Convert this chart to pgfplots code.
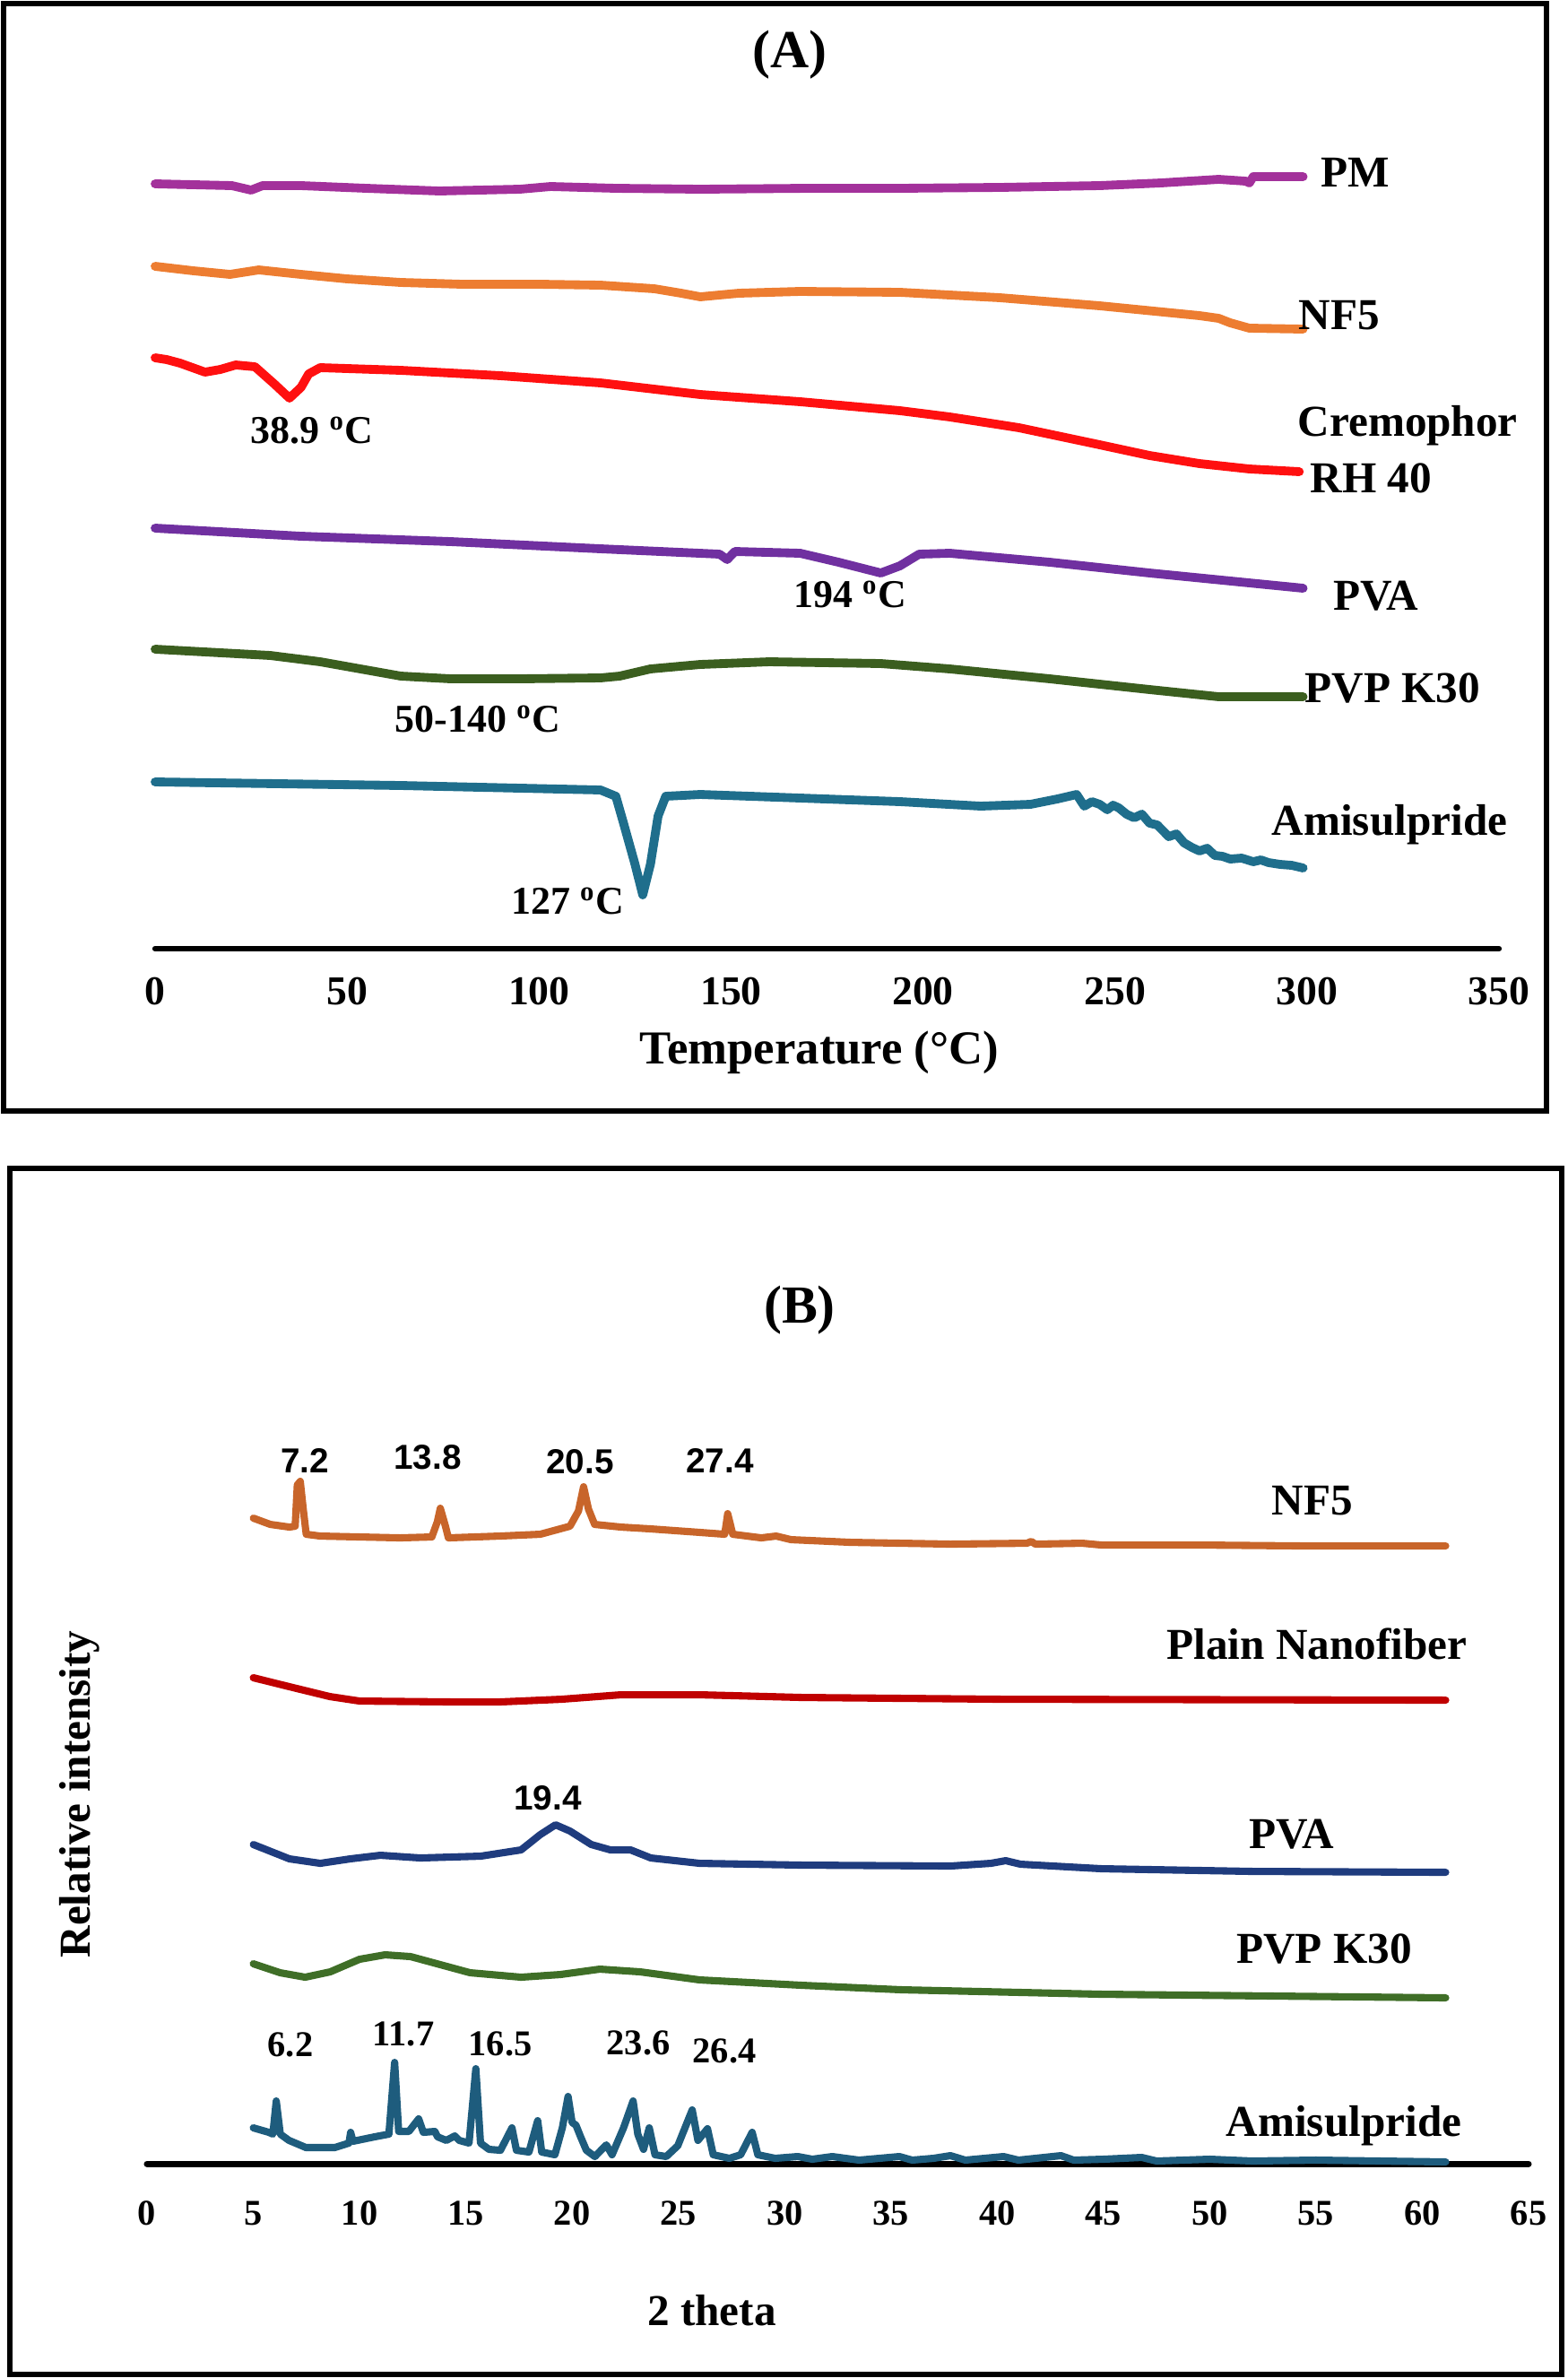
\documentclass[border=0pt]{standalone}
\usepackage{pgfplots}
\pgfplotsset{compat=1.18}
\usepackage{fontspec}
\setmainfont{Liberation Serif}
\newfontfamily\sansfont{Liberation Sans}
\definecolor{cPM}{HTML}{A3319B}
\definecolor{cNFa}{HTML}{ED7D31}
\definecolor{cCrem}{HTML}{FF1010}
\definecolor{cPVAa}{HTML}{7030A0}
\definecolor{cPVPa}{HTML}{3B5E1F}
\definecolor{cAMIa}{HTML}{1F6E8C}
\definecolor{cNFb}{HTML}{C8652A}
\definecolor{cPlain}{HTML}{C00000}
\definecolor{cPVAb}{HTML}{1F3C7E}
\definecolor{cPVPb}{HTML}{3F6E27}
\definecolor{cAMIb}{HTML}{1E5C7D}
\newcommand\fs[1]{\fontsize{#1}{#1}\selectfont\bfseries}
\begin{document}
\begin{tikzpicture}
\useasboundingbox (0,0) rectangle (17.48,-26.52);
% frames
\draw[line width=1.5pt] (0.04,-0.04) rectangle (17.25,-12.39);
\draw[line width=1.5pt] (0.11,-13.03) rectangle (17.42,-26.48);

% ---------------- Panel A ----------------
\begin{axis}[at={(1.73cm,-10.58cm)}, anchor=south west, scale only axis,
  width=14.99cm, height=10cm, xmin=0, xmax=350, ymin=0, ymax=1000,
  axis x line=bottom, axis y line=none, x axis line style={-,line width=1.8pt},
  xtick={0,50,...,350}, major tick length=0pt,
  /pgf/number format/assume math mode=true,
  xticklabel style={font=\fs{13}, anchor=center, yshift=-0.48cm},
  clip=false, line cap=round, line join=round]
\addplot[cPM, line width=2.8pt] coordinates {(0,853)(10,852)(20,851)(25,846)(28,851)(38,851)(55,848)(74,845)(95,847)(103,850)(120,848)(142,847)(170,848)(194,848)(220,849)(246,851)(262,854)(277,858)(284,856)(285,854)(286,861)(299,861)};
\addplot[cNFa, line width=2.8pt] coordinates {(0,761)(10,756)(19.5,752)(27,757)(38,752)(50,747)(64,743)(80,741)(100,741)(116,740)(130,736)(137,731)(142,727)(152,731)(168,733)(194,732)(220,726)(246,717)(272,706)(277,703)(280,698)(285,692)(299,691)};
\addplot[cCrem, line width=2.8pt] coordinates {(0,659)(3,657)(6.5,653)(13,643)(17,646)(21,651)(26,649)(31,630)(35,614)(38,626)(40,641)(43,648)(64,645)(90,639)(116,631)(142,618)(168,610)(194,600)(207,593)(225,581)(246,562)(259,550)(272,541)(285,535)(298,532)};
\addplot[cPVAa, line width=2.8pt] coordinates {(0,469)(38,460)(77,454)(116,446)(147,440)(149,434)(151,443)(168,441)(178,431)(189,419)(194,427)(199,440)(207,441)(233,431)(259,419)(299,402)};
\addplot[cPVPa, line width=2.8pt] coordinates {(0,334)(30,327)(43,320)(64,304)(77,301)(95,301)(116,302)(121,304)(129,312)(142,317)(160,320)(189,318)(207,312)(233,301)(259,289)(277,281)(299,281)};
\addplot[cAMIa, line width=2.8pt] coordinates {(0,186)(64,182)(116,177)(120,170)(122,140)(125,94)(127,60)(129,94)(131,148)(133,170)(142,172)(168,168)(194,164)(215,159)(228,161)(235,167)(240,172)(242,159)(244,164)(246,161)(248,155)(249.5,160)(251,157)(253,150)(255,146)(257,150)(259,140)(261,138)(264,125)(266,128)(268,118)(270,113)(272,109)(274,112)(276,104)(278,103)(280,100)(283,101)(286,97)(288,99)(290,96)(293,94)(296,93)(299,90)};
\end{axis}
\node[font=\fs{17}] at (8.81,-0.61) {(A)};
\node[font=\fs{15}] at (9.14,-11.74) {Temperature (°C)};
\node[font=\fs{14}, anchor=west, inner sep=0pt] at (14.73,-1.92) {PM};
\node[font=\fs{14}, anchor=west, inner sep=0pt] at (14.48,-3.52) {NF5};
\node[font=\fs{14}, anchor=west, inner sep=0pt] at (14.47,-4.75) {Cremophor};
\node[font=\fs{14}, anchor=west, inner sep=0pt] at (14.61,-5.33) {RH 40};
\node[font=\fs{14}] at (15.35,-6.65) {PVA};
\node[font=\fs{14}, anchor=west, inner sep=0pt] at (14.55,-7.67) {PVP K30};
\node[font=\fs{14}] at (15.50,-9.20) {Amisulpride};
\node[font=\fs{12.5}] at (3.48,-4.80) {38.9 \textsuperscript{o}C};
\node[font=\fs{12.5}] at (9.48,-6.63) {194 \textsuperscript{o}C};
\node[font=\fs{12.5}] at (5.33,-8.02) {50-140 \textsuperscript{o}C};
\node[font=\fs{12.5}] at (6.33,-10.05) {127 \textsuperscript{o}C};

% ---------------- Panel B ----------------
\begin{axis}[at={(1.64cm,-24.13cm)}, anchor=south west, scale only axis,
  width=15.41cm, height=9cm, xmin=0, xmax=65, ymin=0, ymax=900,
  axis x line=bottom, axis y line=none, x axis line style={-,line width=2pt},
  xtick={0,5,...,65}, major tick length=0pt,
  /pgf/number format/assume math mode=true,
  xticklabel style={font=\fs{11.5}, anchor=center, yshift=-0.55cm},
  clip=false, line cap=round, line join=round]
\addplot[cNFb, line width=2.3pt] coordinates {(5,720)(5.8,713)(6.7,710)(6.97,711)(7.07,757)(7.21,761)(7.35,730)(7.49,702)(8.15,700)(11.9,698)(13.4,699)(13.66,716)(13.8,731)(14.04,711)(14.18,698)(16.6,700)(18.5,702)(19.9,711)(20.3,728)(20.54,755)(20.77,730)(21.06,713)(22.3,710)(23.7,708)(26.05,704)(27.18,702)(27.32,725)(27.56,702)(28.9,698)(29.6,700)(30.3,696)(33.1,693)(37.8,691)(41.4,692)(41.6,694)(41.8,691)(44,692)(44.9,690)(49.6,690)(54.3,689)(61.1,689)};
\addplot[cPlain, line width=2.3pt] coordinates {(5,542)(6.7,532)(8.6,521)(10,516)(14.3,515)(16.6,515)(19.5,518)(22.3,523)(26,523)(30.8,520)(40.2,518)(61.1,517)};
\addplot[cPVAb, line width=2.3pt] coordinates {(5,356)(6.7,340)(8.15,335)(9.56,340)(10.98,344)(12.86,341)(15.7,343)(17.6,350)(18.5,367)(19.22,378)(19.9,371)(20.9,356)(21.8,350)(22.75,350)(23.7,341)(26,335)(30.8,333)(37.8,332)(39.7,335)(40.4,338)(41.1,334)(44.9,329)(52,326)(61.1,325)};
\addplot[cPVPb, line width=2.3pt] coordinates {(5,223)(6.26,213)(7.44,208)(8.62,214)(10,228)(11.2,233)(12.4,231)(13.8,222)(15.2,213)(17.6,208)(19.45,211)(21.3,217)(23.2,214)(26,205)(30.8,199)(35.5,194)(44.9,189)(61.1,185)};
\addplot[cAMIb, line width=2.3pt] coordinates {(5,40)(5.73,35)(5.92,33)(6.08,70)(6.27,33)(6.68,26)(7.48,18)(8.83,18)(9.5,23)(9.58,35)(9.69,25)(10.71,30)(11.38,33)(11.65,113)(11.84,36)(12.32,36)(12.78,50)(13.0,35)(13.54,36)(13.67,30)(14.08,26)(14.48,31)(14.69,26)(15.15,23)(15.47,106)(15.69,23)(16.09,16)(16.63,15)(17.17,40)(17.38,15)(17.97,13)(18.38,48)(18.57,13)(19.19,10)(19.54,40)(19.81,75)(20.0,46)(20.18,43)(20.4,30)(20.67,15)(21.07,8)(21.61,21)(21.88,10)(22.42,40)(22.87,70)(23.09,33)(23.36,16)(23.63,40)(23.9,10)(24.43,8)(24.97,20)(25.65,60)(25.92,26)(26.37,39)(26.64,10)(27.4,6)(27.93,10)(28.47,35)(28.74,10)(29.55,6)(30.62,8)(31.3,5)(32.24,8)(33.5,4)(35.4,8)(36,4)(37,6)(37.8,9)(38.5,4)(40.3,8)(41,4)(43,9)(43.6,4)(45,5)(46.8,7)(47.5,3)(50,5)(52,3)(55,4)(58,3)(61.1,2)};
\end{axis}
\node[font=\fs{17}] at (8.92,-14.61) {(B)};
\node[font=\fs{14}, rotate=90] at (0.89,-20.01) {Relative intensity};
\node[font=\fs{14}] at (7.94,-25.77) {2 theta};
\node[font=\fs{14}] at (14.64,-16.74) {NF5};
\node[font=\fs{14}] at (14.69,-18.33) {Plain Nanofiber};
\node[font=\fs{14}] at (14.41,-20.46) {PVA};
\node[font=\fs{14}] at (14.77,-21.73) {PVP K30};
\node[font=\fs{14}] at (14.99,-23.71) {Amisulpride};
\node[font=\sansfont\fs{11}] at (3.40,-16.29) {7.2};
\node[font=\sansfont\fs{11}] at (4.77,-16.25) {13.8};
\node[font=\sansfont\fs{11}] at (6.47,-16.30) {20.5};
\node[font=\sansfont\fs{11}] at (8.03,-16.29) {27.4};
\node[font=\sansfont\fs{11}] at (6.11,-20.05) {19.4};
\node[font=\fs{11.5}] at (3.24,-22.80) {6.2};
\node[font=\fs{11.5}] at (4.50,-22.68) {11.7};
\node[font=\fs{11.5}] at (5.58,-22.79) {16.5};
\node[font=\fs{11.5}] at (7.12,-22.78) {23.6};
\node[font=\fs{11.5}] at (8.08,-22.87) {26.4};
\end{tikzpicture}
\end{document}
